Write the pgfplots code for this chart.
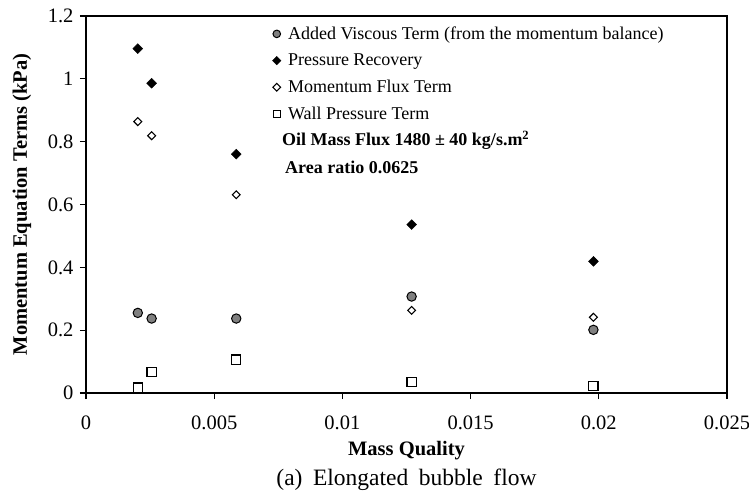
\documentclass[border=0pt]{standalone}
\usepackage{fontspec}
\setmainfont{Liberation Serif}
\usepackage{pgfplots}
\pgfplotsset{compat=1.18}

\definecolor{markgray}{RGB}{128,128,128}

\begin{document}
\begin{tikzpicture}
\begin{axis}[
  at={(0pt,0pt)}, anchor=south west,
  scale only axis,
  width=641pt, height=377pt,
  xmin=0, xmax=0.025, ymin=0, ymax=1.2,
  xtick={0,0.005,0.01,0.015,0.02,0.025},
  xticklabels={0,0.005,0.01,0.015,0.02,0.025},
  ytick={0,0.2,0.4,0.6,0.8,1,1.2},
  yticklabels={0,0.2,0.4,0.6,0.8,1,1.2},
  scaled x ticks=false,
  tick align=outside,
  xtick pos=bottom, ytick pos=left,
  major tick length=6pt,
  axis line style={line width=1.2pt},
  every tick/.style={black, line width=1.2pt},
  ticklabel style={font=\fontsize{20.5}{24}\selectfont},
  xticklabel style={yshift=-13pt},
  yticklabel style={xshift=-3pt},
  xlabel={\textbf{Mass Quality}},
  ylabel={\textbf{Momentum Equation Terms (kPa)}},
  label style={font=\fontsize{20.5}{24}\selectfont},
  xlabel style={at={(axis description cs:0.5,-0.1538)}, anchor=center},
  ylabel style={at={(axis description cs:-0.0998,0.5)}, anchor=center, rotate=0},
  legend style={
    at={(axis cs:0.00715,1.179)}, anchor=north west,
    draw=none, fill=none,
    font=\fontsize{18}{21}\selectfont,
    row sep=9pt,
    cells={anchor=west},
    /tikz/every odd column/.append style={column sep=5pt},
  },
  legend image code/.code={\draw[#1] plot coordinates {(0pt,0pt)};},
]

% Added viscous term
\addplot[only marks, mark=*, mark size=4.7pt,
  mark options={fill=markgray, draw=black, line width=1pt},
  legend image post style={mark size=3.8pt}]
  coordinates {(0.00202,0.255) (0.00256,0.237) (0.00586,0.237) (0.01270,0.307) (0.01979,0.201)};
\addlegendentry{Added Viscous Term (from the momentum balance)}

% Pressure recovery
\addplot[only marks, mark=square*, mark size=3.5pt,
  mark options={rotate=45, fill=black, draw=black},
  legend image post style={mark size=3pt}]
  coordinates {(0.00202,1.096) (0.00256,0.986) (0.00586,0.760) (0.01270,0.536) (0.01979,0.419)};
\addlegendentry{Pressure Recovery}

% Momentum flux term
\addplot[only marks, mark=square, mark size=2.8pt,
  mark options={rotate=45, fill=white, draw=black, line width=1.1pt},
  legend image post style={mark size=2.7pt}]
  coordinates {(0.00202,0.864) (0.00256,0.819) (0.00586,0.631) (0.01270,0.263) (0.01979,0.241)};
\addlegendentry{Momentum Flux Term}

% Wall pressure term
\addplot[only marks, mark=square, mark size=4.6pt,
  mark options={fill=white, draw=black, line width=1.2pt},
  legend image post style={mark size=3.6pt}]
  coordinates {(0.00202,0.017) (0.00256,0.067) (0.00586,0.106) (0.01270,0.035) (0.01979,0.022)};
\addlegendentry{Wall Pressure Term}

\node[anchor=west, font=\fontsize{18}{21}\selectfont\bfseries, inner sep=0pt]
  at (axis cs:0.00764,0.804) {Oil Mass Flux 1480 ± 40 kg/s.m\textsuperscript{2}};
\node[anchor=west, font=\fontsize{18}{21}\selectfont\bfseries, inner sep=0pt]
  at (axis cs:0.00776,0.718) {Area ratio 0.0625};
\end{axis}
% sub-figure caption
\node[font=\fontsize{23.5}{27}\selectfont, anchor=center]
  at ([yshift=-87pt]current axis.south) {(a)\hspace{0.45em}Elongated\hspace{0.45em}bubble\hspace{0.45em}flow};
\pgfresetboundingbox
\path[use as bounding box] (-86pt,-99pt) rectangle (663pt,393pt);
\end{tikzpicture}
\end{document}
